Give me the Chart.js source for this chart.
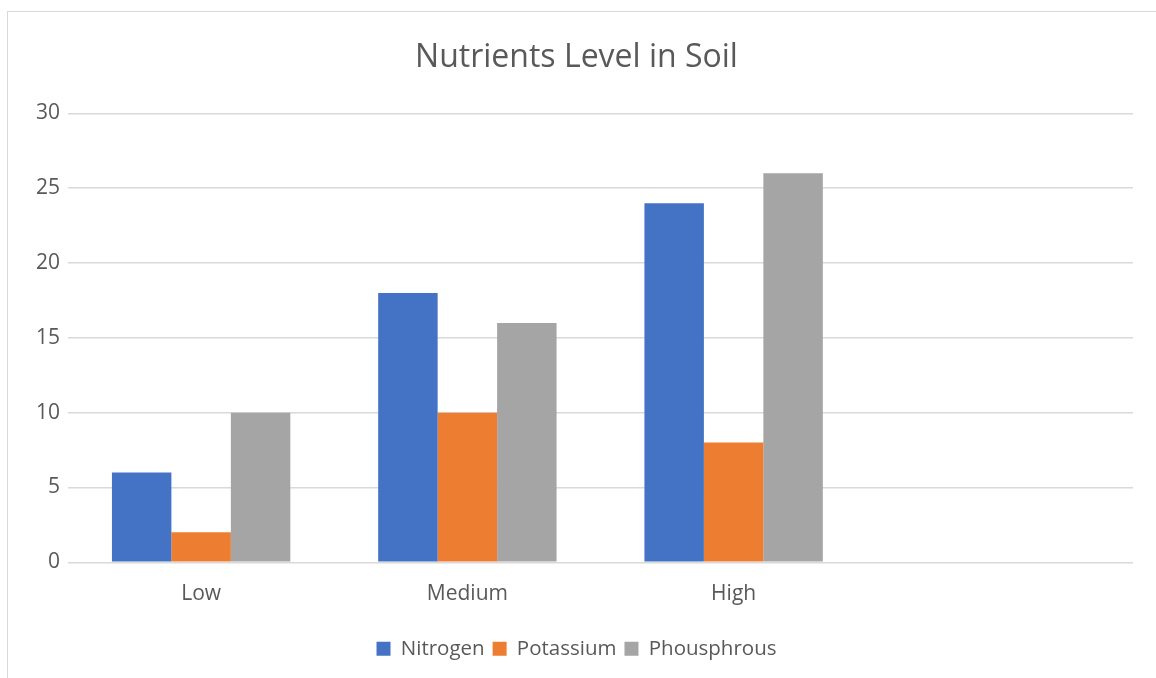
<!DOCTYPE html>
<html>
<head>
<meta charset="utf-8">
<script src="https://cdn.jsdelivr.net/npm/chart.js@4"></script>
<style>
  body { margin: 0; background: #fff; }
  #frame {
    position: absolute; left: 7px; top: 11px;
    width: 1160px; height: 680px;
    border: 1px solid #d9d9d9;
  }
  #wrap { position: absolute; left: 0; top: 0; width: 1156px; height: 678px; }
</style>
</head>
<body>
<div id="frame"></div>
<div id="wrap"><canvas id="soilChart"></canvas></div>
<script>
// Categories (the fourth slot is empty in the original)
const levels = ['Low', 'Medium', 'High', ''];

// Series values
const nitrogen = [6, 18, 24, null];
const potassium = [2, 10, 8, null];
const phosphorous = [10, 16, 26, null];

const yTicks = [0, 5, 10, 15, 20, 25, 30];

const ctx = document.getElementById('soilChart').getContext('2d');
const soilChart = new Chart(ctx, {
    type: 'bar',
    data: {
        labels: levels,
        datasets: [
            { label: 'Nitrogen', data: nitrogen, backgroundColor: '#4472c4' },
            { label: 'Potassium', data: potassium, backgroundColor: '#ed7d31' },
            { label: 'Phousphrous', data: phosphorous, backgroundColor: '#a5a5a5' }
        ]
    },
    options: {
        responsive: true,
        maintainAspectRatio: false,
        animation: false,
        layout: { padding: { left: 20, right: 23, top: 39, bottom: 9 } },
        datasets: {
            bar: { barPercentage: 1.0, categoryPercentage: 0.67 }
        },
        scales: {
            x: {
                afterFit: (scale) => { scale.height += 13; }, // extra gap above the legend
                grid: { display: false },
                border: { display: false },
                ticks: {
                    color: '#595959',
                    font: { family: 'Open Sans', size: 21 },
                    padding: 11
                }
            },
            y: {
                min: 0,
                max: 30,
                afterFit: (scale) => { scale.width = 48; },
                afterBuildTicks: (scale) => { scale.ticks = yTicks.map(v => ({ value: v })); },
                grid: { color: '#d9d9d9', lineWidth: 1.5, drawTicks: false },
                border: { display: false },
                ticks: {
                    color: '#595959',
                    font: { family: 'Open Sans', size: 21 },
                    padding: 8
                }
            }
        },
        plugins: {
            title: {
                display: true,
                text: 'Nutrients Level in Soil',
                color: '#595959',
                font: { family: 'Open Sans', size: 32, weight: 'normal' },
                padding: { top: 0, bottom: 36 }
            },
            legend: {
                position: 'bottom',
                labels: {
                    color: '#595959',
                    font: { family: 'Open Sans', size: 20.5 },
                    boxWidth: 14,
                    boxHeight: 14,
                    padding: 8
                }
            },
            tooltip: { enabled: false }
        }
    }
});
</script>
</body>
</html>
